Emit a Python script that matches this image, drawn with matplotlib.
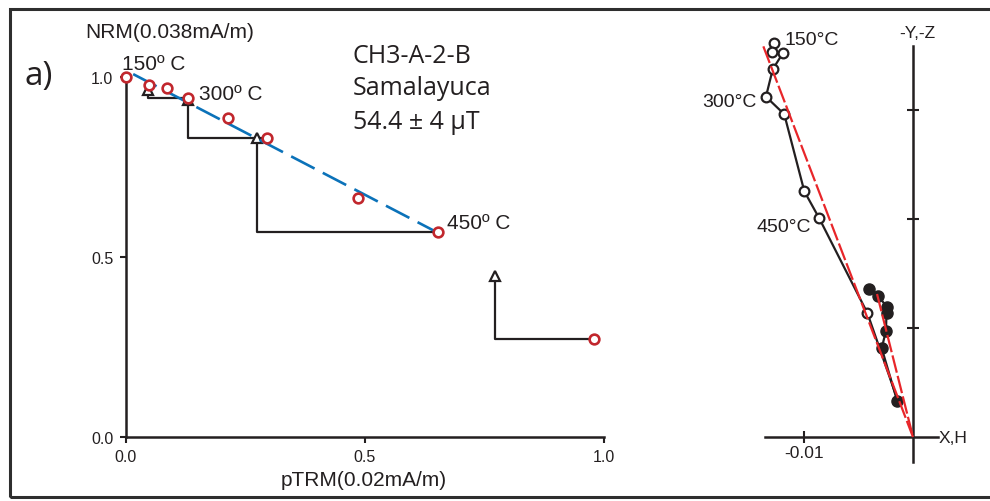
import matplotlib.pyplot as plt
import matplotlib.patches as mpatches
from matplotlib import font_manager

# Arai plot: NRM remaining vs pTRM gained (normalised)
ptrm = [0.0, 0.049, 0.085, 0.130, 0.214, 0.296, 0.485, 0.653, 0.979]
nrm = [1.0, 0.978, 0.969, 0.942, 0.887, 0.831, 0.664, 0.570, 0.272]

# pTRM checks and the step each one is hooked to
check_ptrm = [0.046, 0.130, 0.274, 0.772]
check_nrm = [0.964, 0.936, 0.831, 0.447]
check_step = [3, 5, 7, 8]

# best fit segment 150-450 C
fit_ptrm = [0.015, 0.653]
fit_nrm = [1.008, 0.567]

arai_labels = ['150º C', '300º C', '450º C']
arai_label_xy = [(-0.009, 1.022), (0.153, 0.939), (0.671, 0.581)]

# Zijderveld diagram (vertical = open, horizontal = filled)
vert_x = [-0.01275, -0.01291, -0.01193, -0.01287, -0.01349, -0.01181,
          -0.00997, -0.00860, -0.00419, -0.00138]
vert_y = [0.03615, 0.03529, 0.03523, 0.03373, 0.03122, 0.02961,
          0.02254, 0.02006, 0.01138, 0.00330]
horiz_x = [-0.00404, -0.00318, -0.00241, -0.00243, -0.00248, -0.00287, -0.00144]
horiz_y = [0.01358, 0.01296, 0.01193, 0.01138, 0.00975, 0.00814, 0.00328]

pca1_x = [-0.01373, 0.0]
pca1_y = [0.03584, 0.0]
pca2_x = [-0.00330, 0.0]
pca2_y = [0.01312, 0.0]

zij_labels = ['150°C', '300°C', '450°C']

ink = '#231f20'
red = '#c1272d'
blue = '#0b72b9'
pca_red = '#e8262a'

names = {f.name for f in font_manager.fontManager.ttflist}
if 'Liberation Sans Narrow' in names:
    narrow, label_size, axis_size = 'Liberation Sans Narrow', 15.5, 13.5
else:
    narrow, label_size, axis_size = 'Liberation Sans', 14, 12.5
plt.rcParams['font.family'] = ['Liberation Sans', 'DejaVu Sans']

W, H = 990, 502
fig = plt.figure(figsize=(W / 100, H / 100), dpi=100)


def fx(px):
    return px / W


def fy(py):
    return 1 - py / H


# outer frame
fig.add_artist(mpatches.Rectangle((fx(10), fy(498)), fx(1000) - fx(10), fy(9.5) - fy(498),
                                  transform=fig.transFigure, fill=False,
                                  lw=2.2, ec='#2e2e2e'))

# ---- Arai plot ----
ax1 = fig.add_axes([fx(126), fy(438), fx(604) - fx(126), fy(78) - fy(438)])
ax1.set_xlim(0, 1)
ax1.set_ylim(0, 1)
ax1.patch.set_alpha(0)
for s in ['top', 'right']:
    ax1.spines[s].set_visible(False)
for s in ['left', 'bottom']:
    ax1.spines[s].set_linewidth(1.8)
    ax1.spines[s].set_color(ink)
ax1.set_xticks([0, 0.5, 1.0])
ax1.set_yticks([0, 0.5, 1.0])
ax1.set_xticklabels(['0.0', '0.5', '1.0'])
ax1.set_yticklabels(['0.0', '0.5', '1.0'])
ax1.tick_params(labelsize=11.5, colors=ink, width=1.5, length=4, direction='out', pad=5)

for k in range(len(check_ptrm)):
    i = check_step[k]
    ax1.plot([ptrm[i], check_ptrm[k], check_ptrm[k]], [nrm[i], nrm[i], check_nrm[k]],
             color=ink, lw=1.6, clip_on=False, zorder=2)
ax1.plot(check_ptrm, check_nrm, ls='none', marker='^', ms=7.5, mfc='white',
         mec=ink, mew=1.6, clip_on=False, zorder=3)
ax1.plot(fit_ptrm, fit_nrm, color=blue, lw=1.9, dashes=(10, 3.5), clip_on=False, zorder=4)
ax1.plot(ptrm, nrm, ls='none', marker='o', ms=7, mfc='white', mec=red, mew=1.9,
         clip_on=False, zorder=5)

for lab, (x, y) in zip(arai_labels, arai_label_xy):
    ax1.text(x, y, lab, fontsize=15, color=ink, ha='left', va='baseline')

fig.text(fx(170), fy(38), 'NRM(0.038mA/m)', fontsize=15, color=ink, ha='center', va='baseline')
fig.text(fx(364), fy(486), 'pTRM(0.02mA/m)', fontsize=15, color=ink, ha='center', va='baseline')
fig.text(fx(24), fy(85), 'a)', fontsize=24, color=ink, ha='left', va='baseline',
         family='Open Sans')
for line, py in zip(['CH3-A-2-B', 'Samalayuca', '54.4 ± 4 µT'], [62.7, 95, 129]):
    fig.text(fx(353), fy(py), line, fontsize=18, color=ink, ha='left', va='baseline',
             family='Open Sans')

# ---- Zijderveld diagram ----
sc = 10900  # pixels per unit
ox, oy = 913, 438
ax2 = fig.add_axes([fx(ox - 0.015 * sc), fy(oy + 0.003 * sc),
                    fx(0.018 * sc), fy(0) - fy(0.040 * sc)])
ax2.set_xlim(-0.015, 0.003)
ax2.set_ylim(-0.003, 0.037)
ax2.patch.set_alpha(0)
for s in ['top', 'right']:
    ax2.spines[s].set_visible(False)
ax2.spines['left'].set_position(('data', 0))
ax2.spines['bottom'].set_position(('data', 0))
ax2.spines['left'].set_bounds(-0.0023, 0.0359)
ax2.spines['bottom'].set_bounds(-0.0136, 0.0023)
for s in ['left', 'bottom']:
    ax2.spines[s].set_linewidth(1.8)
    ax2.spines[s].set_color(ink)
ax2.set_xticks([-0.01])
ax2.set_xticklabels(['-0.01'])
ax2.set_yticks([0.01, 0.02, 0.03])
ax2.set_yticklabels([])
ax2.tick_params(axis='both', direction='inout', length=8, width=1.5, colors=ink)
ax2.tick_params(axis='x', labelsize=axis_size, pad=2)
for t in ax2.get_xticklabels():
    t.set_family(narrow)

ax2.plot(vert_x, vert_y, color=ink, lw=1.6, zorder=2, clip_on=False)
ax2.plot(horiz_x, horiz_y, color=ink, lw=1.6, zorder=2, clip_on=False)
ax2.plot(horiz_x, horiz_y, ls='none', marker='o', ms=8, color=ink, zorder=3, clip_on=False)
ax2.plot(vert_x[:-1], vert_y[:-1], ls='none', marker='o', ms=7, mfc='white', mec=ink,
         mew=1.6, zorder=3, clip_on=False)
ax2.plot(pca1_x, pca1_y, color=pca_red, lw=1.6, dashes=(8, 1.5), zorder=4, clip_on=False)
ax2.plot(pca2_x, pca2_y, color=pca_red, lw=1.6, dashes=(8, 1.5), zorder=4, clip_on=False)

ax2.text((785 - ox) / sc, (oy - 45) / sc, zij_labels[0], family=narrow, fontsize=label_size,
         color=ink, ha='left', va='baseline')
ax2.text((757 - ox) / sc, (oy - 107) / sc, zij_labels[1], family=narrow, fontsize=label_size,
         color=ink, ha='right', va='baseline')
ax2.text((811 - ox) / sc, (oy - 232) / sc, zij_labels[2], family=narrow, fontsize=label_size,
         color=ink, ha='right', va='baseline')
ax2.text((917 - ox) / sc, (oy - 38) / sc, '-Y,-Z', family=narrow, fontsize=axis_size,
         color=ink, ha='center', va='baseline')
ax2.text((939 - ox) / sc, (oy - 443) / sc, 'X,H', family=narrow, fontsize=axis_size,
         color=ink, ha='left', va='baseline')

fig.savefig('out.png', dpi=100)
